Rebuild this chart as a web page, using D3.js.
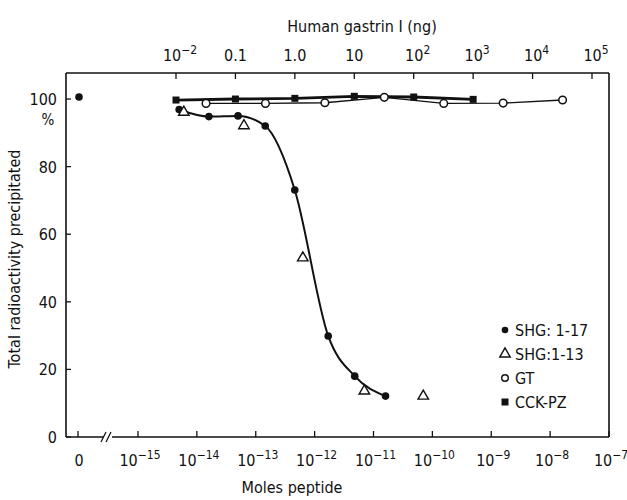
<!DOCTYPE html>
<html>
<head>
<meta charset="utf-8">
<script src="https://cdn.jsdelivr.net/npm/d3@7"></script>
<style>
  body { margin: 0; background: #fff; }
  svg text { font-family: "DejaVu Sans", sans-serif; font-stretch: condensed; fill: #111; }
</style>
</head>
<body>
<svg width="627" height="500"></svg>
<script>
// SHG peptides plotted in moles (bottom axis)
const shg117Moles = [5e-15, 1.6e-14, 5e-14, 1.45e-13, 4.6e-13, 1.7e-12, 4.8e-12, 1.6e-11]
const shg117Vals  = [96.9, 94.8, 95.0, 92.0, 73.1, 29.9, 18.0, 12.1]
const shg117Zero  = 100.6

const shg113Moles = [6e-15, 6.3e-14, 6.3e-13, 7e-12, 7e-11]
const shg113Vals  = [96.1, 92.1, 53.0, 13.6, 12.1]

// GT and CCK-PZ plotted in ng (top axis)
const gtNg   = [0.032, 0.32, 3.2, 32, 320, 3200, 32000]
const gtVals = [98.7, 98.7, 98.9, 100.5, 98.7, 98.8, 99.7]

const cckNg   = [0.01, 0.1, 1, 10, 100, 1000]
const cckVals = [99.7, 100.0, 100.2, 100.8, 100.6, 99.9]

const bottomTicks = [1e-15, 1e-14, 1e-13, 1e-12, 1e-11, 1e-10, 1e-9, 1e-8, 1e-7]
const topTicks = [
  {v:1e-2, base:"10", exp:"−2"}, {v:0.1, base:"0.1", exp:""}, {v:1, base:"1.0", exp:""},
  {v:10, base:"10", exp:""}, {v:100, base:"10", exp:"2"}, {v:1e3, base:"10", exp:"3"},
  {v:1e4, base:"10", exp:"4"}, {v:1e5, base:"10", exp:"5"}
]
const yTicks = [0, 20, 40, 60, 80, 100]
const legendItems = ["SHG: 1-17", "SHG:1-13", "GT", "CCK-PZ"]

const margin = {top:73, right:18, bottom:63, left:66}
const W = 627 - margin.left - margin.right
const H = 500 - margin.top - margin.bottom

const svg = d3.select("svg")
const g = svg.append("g").attr("transform", `translate(${margin.left},${margin.top})`)

const x = d3.scaleLog().domain([1e-15, 1e-7]).range([72, W])
const xTop = d3.scaleLog().domain([1e-2, 1e5]).range([110, 526])
const y = d3.scaleLinear().domain([0, 107.7]).range([H, 0])
const xZero = 12

// frame
g.append("line").attr("x1",0).attr("x2",0).attr("y1",0).attr("y2",H).attr("stroke","#111").attr("stroke-width",1.6)
g.append("line").attr("x1",W).attr("x2",W).attr("y1",0).attr("y2",H).attr("stroke","#111").attr("stroke-width",1.6)
g.append("line").attr("x1",0).attr("x2",W).attr("y1",0).attr("y2",0).attr("stroke","#111").attr("stroke-width",1.6)
g.append("line").attr("x1",0).attr("x2",38).attr("y1",H).attr("y2",H).attr("stroke","#111").attr("stroke-width",1.6)
g.append("line").attr("x1",46).attr("x2",W).attr("y1",H).attr("y2",H).attr("stroke","#111").attr("stroke-width",1.6)
g.selectAll(".brk").data([37, 42]).enter().append("line")
  .attr("x1",d=>d-2).attr("x2",d=>d+3).attr("y1",H+5).attr("y2",H-5)
  .attr("stroke","#111").attr("stroke-width",1.3)

// bottom axis
g.selectAll(".bt").data(bottomTicks).enter().append("line")
  .attr("x1",d=>x(d)).attr("x2",d=>x(d)).attr("y1",H).attr("y2",H-6)
  .attr("stroke","#111").attr("stroke-width",1.3)
g.append("line").attr("x1",xZero).attr("x2",xZero).attr("y1",H).attr("y2",H-6).attr("stroke","#111").attr("stroke-width",1.3)

const bl = g.selectAll(".bl").data(bottomTicks).enter().append("text")
  .attr("x",d=>x(d)+2).attr("y",H+29).attr("text-anchor","middle").style("font-size","16px")
bl.append("tspan").text("10")
bl.append("tspan").attr("dy",-7).style("font-size","12px").text(d=>"−" + (-Math.round(Math.log10(d))))
g.append("text").attr("x",xZero+1).attr("y",H+29).attr("text-anchor","middle").style("font-size","16px").text("0")

g.append("text").attr("x",226).attr("y",H+56).attr("text-anchor","middle").style("font-size","16px").text("Moles peptide")

// top axis
g.selectAll(".tt").data(topTicks).enter().append("line")
  .attr("x1",d=>xTop(d.v)).attr("x2",d=>xTop(d.v)).attr("y1",0).attr("y2",6)
  .attr("stroke","#111").attr("stroke-width",1.3)
const tl = g.selectAll(".tl").data(topTicks).enter().append("text")
  .attr("x",d=>xTop(d.v) + (d.exp ? 4 : 0)).attr("y",-12).attr("text-anchor","middle").style("font-size","16px")
tl.append("tspan").text(d=>d.base)
tl.append("tspan").attr("dy",-7).style("font-size","12px").text(d=>d.exp)

g.append("text").attr("x",296).attr("y",-41).attr("text-anchor","middle").style("font-size","16px").text("Human gastrin I (ng)")

// left axis
g.selectAll(".yt").data(yTicks).enter().append("line")
  .attr("x1",0).attr("x2",5).attr("y1",d=>y(d)).attr("y2",d=>y(d))
  .attr("stroke","#111").attr("stroke-width",1.3)
g.selectAll(".yl").data(yTicks).enter().append("text")
  .attr("x",-9).attr("y",d=>y(d)+6).attr("text-anchor","end").style("font-size","16px").text(d=>d)
g.append("text").attr("x",-18).attr("y",y(100)+26).attr("text-anchor","middle").style("font-size","15px").text("%")
g.append("text").attr("transform",`translate(-46,${H/2 + 4}) rotate(-90)`)
  .attr("text-anchor","middle").style("font-size","16px").text("Total radioactivity precipitated")

// lines
const cck = cckNg.map((v,i)=>({x:xTop(v), y:y(cckVals[i])}))
const gt = gtNg.map((v,i)=>({x:xTop(v), y:y(gtVals[i])}))
const s117 = shg117Moles.map((v,i)=>({x:x(v), y:y(shg117Vals[i])}))
const s113 = shg113Moles.map((v,i)=>({x:x(v), y:y(shg113Vals[i])}))

const straight = d3.line().x(d=>d.x).y(d=>d.y)
const smooth = d3.line().x(d=>d.x).y(d=>d.y).curve(d3.curveMonotoneX)

g.append("path").attr("d",straight(cck)).attr("fill","none").attr("stroke","#111").attr("stroke-width",2.8)
g.append("path").attr("d",straight(gt)).attr("fill","none").attr("stroke","#111").attr("stroke-width",1.4)
g.append("path").attr("d",smooth(s117)).attr("fill","none").attr("stroke","#111").attr("stroke-width",2)

// markers
const sq = 7
g.selectAll(".cck").data(cck).enter().append("rect")
  .attr("x",d=>d.x-sq/2).attr("y",d=>d.y-sq/2).attr("width",sq).attr("height",sq).attr("fill","#111")
g.selectAll(".gt").data(gt).enter().append("circle")
  .attr("cx",d=>d.x).attr("cy",d=>d.y).attr("r",3.8).attr("fill","#fff").attr("stroke","#111").attr("stroke-width",1.5)
g.selectAll(".s117").data(s117).enter().append("circle")
  .attr("cx",d=>d.x).attr("cy",d=>d.y).attr("r",3.8).attr("fill","#111")
g.append("circle").attr("cx",xZero+1).attr("cy",y(shg117Zero)).attr("r",3.8).attr("fill","#111")

const tri = d3.symbol().type(d3.symbolTriangle).size(48)
g.selectAll(".s113").data(s113).enter().append("path")
  .attr("d",tri).attr("transform",d=>`translate(${d.x},${d.y})`)
  .attr("fill","#fff").attr("stroke","#111").attr("stroke-width",1.4)

// legend
const leg = g.selectAll(".leg").data(legendItems).enter().append("g")
  .attr("transform",(d,i)=>`translate(439,${257 + i*24})`)
leg.append("text").attr("x",10).attr("y",6).style("font-size","16px").text(d=>d)
leg.filter((d,i)=>i===0).append("circle").attr("r",3.3).attr("fill","#111")
leg.filter((d,i)=>i===1).append("path").attr("d",tri).attr("fill","#fff").attr("stroke","#111").attr("stroke-width",1.4)
leg.filter((d,i)=>i===2).append("circle").attr("r",3.3).attr("fill","#fff").attr("stroke","#111").attr("stroke-width",1.4)
leg.filter((d,i)=>i===3).append("rect").attr("x",-3.5).attr("y",-3.5).attr("width",7).attr("height",7).attr("fill","#111")
</script>
</body>
</html>
